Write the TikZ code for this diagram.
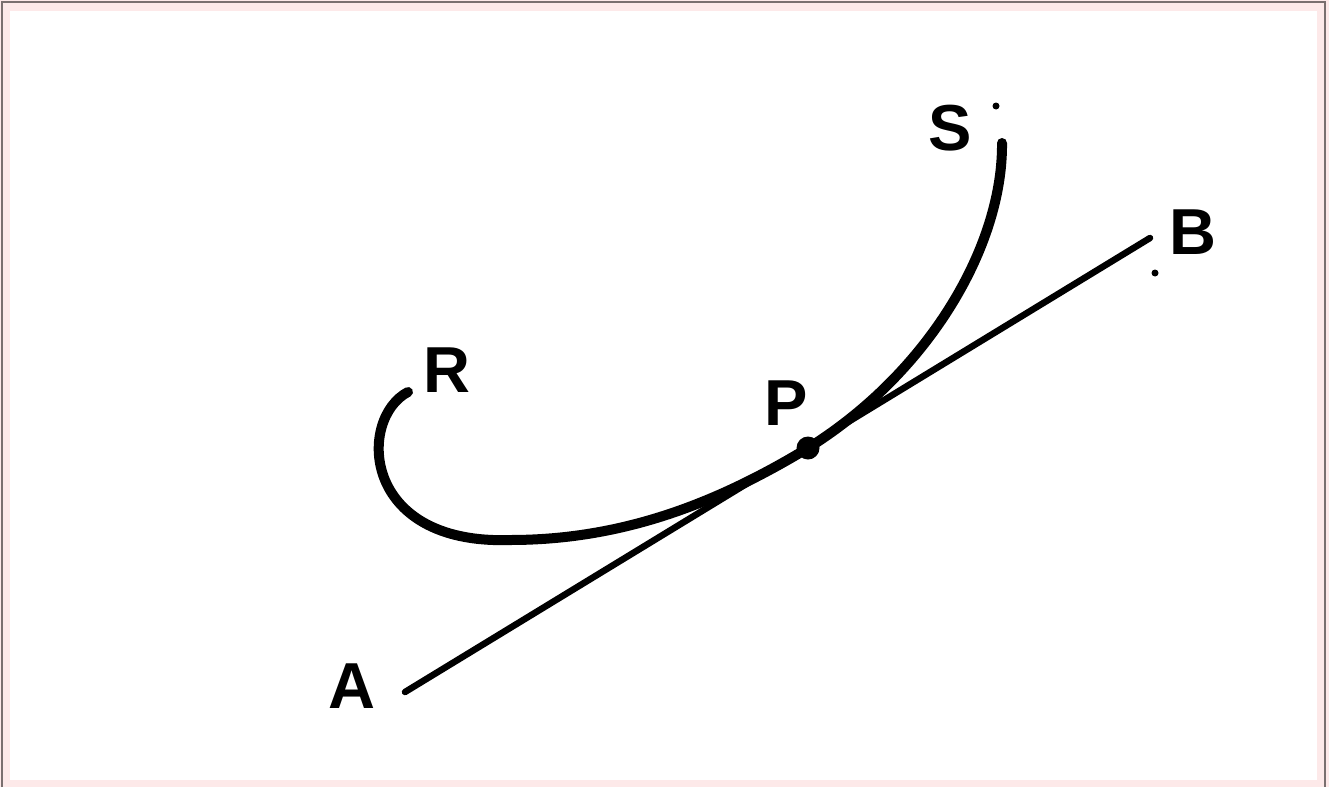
\documentclass[tikz,border=0pt]{standalone}
\usepackage{fontspec}
\setmainfont{Liberation Sans}
\definecolor{framepink}{HTML}{FDE9E9}
\definecolor{framegray}{HTML}{7A6F6F}
\tikzset{
  lbl/.style={inner sep=0pt, font=\bfseries\fontsize{65}{65}\selectfont},
  tangentline/.style={line width=6.5pt, line cap=round},
  curveline/.style={line width=10pt, line cap=round},
}
\begin{document}
\begin{tikzpicture}[x=1pt,y=-1pt]
\useasboundingbox (0,0) rectangle (1329,787);
% frame
\fill[framepink] (0,0) rectangle (1329,787);
\fill[white] (10,11) rectangle (1317,780);
\draw[framegray, line width=2pt] (2,787) -- (2,2) -- (1325,2) -- (1325,787);
% points
\coordinate (a) at (405,692);
\coordinate (b) at (1150,238);
\coordinate (p) at (808,448);
\coordinate (r) at (408,392);
\coordinate (s) at (1002,143);
\coordinate (bot) at (510,540);
% tangent line AB
\draw[tangentline] (a) -- (b);
% curve R - P - S
\draw[curveline] (r) .. controls (358,418) and (360,545) .. (bot)
  .. controls (620,540) and (714,505) .. (p)
  .. controls (930,372) and (1003,245) .. (s);
% point P
\fill (p) circle (11.5);
% small specks
\fill (996,106) circle (3.5);
\fill (1155,273) circle (3.5);
% labels
\node[lbl] (la) at (352,686) {A};
\node[lbl] (lb) at (1193,232) {B};
\node[lbl] (ls) at (950,128) {S};
\node[lbl] (lr) at (447,370) {R};
\node[lbl] (lp) at (786,403) {P};
\end{tikzpicture}
\end{document}
